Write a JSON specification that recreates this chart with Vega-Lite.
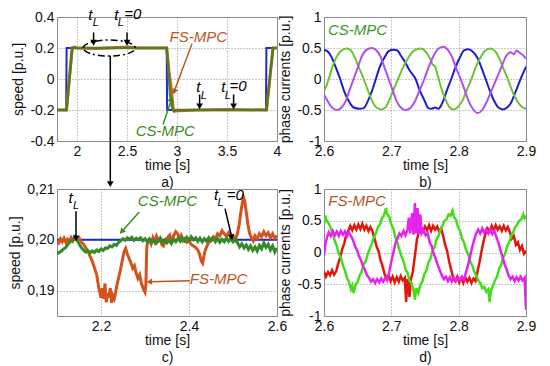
{
"$schema": "https://vega.github.io/schema/vega-lite/v6.json",
"background": "white",
"padding": {"left": 8, "top": 6, "right": 5, "bottom": 5},
"config": {
  "font": "Liberation Sans",
  "view": {"stroke": "#8a8a8a", "strokeWidth": 1},
  "axis": {"grid": true, "gridDash": [1, 2], "gridColor": "#909090", "gridWidth": 1, "domain": false, "ticks": false, "labelFont": "Liberation Sans", "labelFontSize": 14, "labelColor": "#111", "titleFont": "Liberation Sans", "titleFontSize": 14, "titleFontWeight": "normal", "titleColor": "#111", "labelPadding": 3, "labelFlush": false, "labelOverlap": false},
  "axisX": {"titlePadding": 0, "titleLineHeight": 17},
  "axisY": {"titlePadding": 4}
},
"datasets": {
  "a_ref": [{"t":1.8,"v":-0.2},{"t":1.892,"v":-0.2},{"t":1.896,"v":0.2},{"t":2.897,"v":0.2},{"t":2.901,"v":-0.2},{"t":3.89,"v":-0.2},{"t":3.894,"v":0.2},{"t":4.0,"v":0.2}],
  "a_fs": [{"t":1.8,"v":-0.2},{"t":1.895,"v":-0.2},{"t":1.95,"v":0.2},{"t":1.97,"v":0.206},{"t":2.0,"v":0.2},{"t":2.2,"v":0.197},{"t":2.3,"v":0.2},{"t":2.52,"v":0.207},{"t":2.6,"v":0.2},{"t":2.897,"v":0.2},{"t":2.92,"v":0.05},{"t":2.945,"v":-0.08},{"t":2.962,"v":-0.19},{"t":2.98,"v":-0.206},{"t":3.2,"v":-0.2},{"t":3.5,"v":-0.197},{"t":3.895,"v":-0.2},{"t":3.96,"v":0.2},{"t":4.0,"v":0.2}],
  "a_cs": [{"t":1.8,"v":-0.2},{"t":1.895,"v":-0.2},{"t":1.955,"v":0.2},{"t":2.897,"v":0.2},{"t":2.915,"v":0.05},{"t":2.93,"v":-0.1},{"t":2.955,"v":-0.2},{"t":2.97,"v":-0.21},{"t":3.0,"v":-0.2},{"t":3.895,"v":-0.2},{"t":3.96,"v":0.2},{"t":4.0,"v":0.2}],
  "a_t": [{"t":2.133,"v":0.379,"txt":"t"},{"t":2.393,"v":0.379,"txt":"t"},{"t":3.213,"v":-0.087,"txt":"t"},{"t":3.463,"v":-0.087,"txt":"t"}],
  "a_L": [{"t":2.188,"v":0.345,"txt":"L"},{"t":2.438,"v":0.345,"txt":"L"},{"t":3.268,"v":-0.13,"txt":"L"},{"t":3.508,"v":-0.13,"txt":"L"}],
  "a_eq": [{"t":2.473,"v":0.389,"txt":"=0"},{"t":3.525,"v":-0.076,"txt":"=0"}],
  "a_rules": [{"t":2.166,"v":0.30,"t2":2.166,"v2":0.245},{"t":2.5,"v":0.30,"t2":2.5,"v2":0.245},{"t":3.226,"v":-0.10,"t2":3.226,"v2":-0.165},{"t":3.566,"v":-0.10,"t2":3.566,"v2":-0.165},{"t":2.333,"v":0.15,"t2":2.333,"v2":-0.66}],
  "a_heads": [{"t":2.166,"v":0.234},{"t":2.5,"v":0.234},{"t":3.226,"v":-0.176},{"t":3.566,"v":-0.176},{"t":2.333,"v":-0.678}],
  "a_ell": [{"t":2.322,"v":0.2}],
  "a_fsarrow": [{"t":3.15,"v":0.227,"t2":2.976,"v2":-0.072}],
  "a_fshead": [{"t":2.973,"v":-0.082}],
  "a_csarrow": [{"t":2.86,"v":-0.293,"t2":2.94,"v2":-0.14}],
  "a_cshead": [{"t":2.943,"v":-0.13}],
  "a_fslab": [{"t":3.213,"v":0.238,"txt":"FS-MPC"}],
  "a_cslab": [{"t":2.883,"v":-0.366,"txt":"CS-MPC"}],
  "b_blue": [{"t":2.600,"v":0.47},{"t":2.605,"v":0.45},{"t":2.611,"v":0.36},{"t":2.617,"v":0.2},{"t":2.624,"v":0.0},{"t":2.630,"v":-0.2},{"t":2.637,"v":-0.36},{"t":2.644,"v":-0.46},{"t":2.652,"v":-0.48},{"t":2.659,"v":-0.47},{"t":2.665,"v":-0.36},{"t":2.671,"v":-0.2},{"t":2.677,"v":0.0},{"t":2.683,"v":0.2},{"t":2.690,"v":0.35},{"t":2.696,"v":0.45},{"t":2.703,"v":0.47},{"t":2.709,"v":0.46},{"t":2.714,"v":0.38},{"t":2.719,"v":0.3},{"t":2.727,"v":0.14},{"t":2.736,"v":0.0},{"t":2.742,"v":-0.18},{"t":2.749,"v":-0.34},{"t":2.755,"v":-0.47},{"t":2.760,"v":-0.48},{"t":2.765,"v":-0.46},{"t":2.770,"v":-0.48},{"t":2.776,"v":-0.38},{"t":2.782,"v":-0.2},{"t":2.789,"v":0.0},{"t":2.795,"v":0.18},{"t":2.802,"v":0.35},{"t":2.808,"v":0.46},{"t":2.815,"v":0.48},{"t":2.821,"v":0.44},{"t":2.828,"v":0.34},{"t":2.834,"v":0.18},{"t":2.840,"v":0.0},{"t":2.846,"v":-0.18},{"t":2.853,"v":-0.36},{"t":2.859,"v":-0.46},{"t":2.866,"v":-0.49},{"t":2.872,"v":-0.46},{"t":2.878,"v":-0.38},{"t":2.884,"v":-0.22},{"t":2.892,"v":0.0},{"t":2.900,"v":0.2}],
  "b_green": [{"t":2.600,"v":-0.2},{"t":2.604,"v":-0.1},{"t":2.607,"v":0.0},{"t":2.612,"v":0.18},{"t":2.618,"v":0.34},{"t":2.625,"v":0.45},{"t":2.634,"v":0.49},{"t":2.640,"v":0.46},{"t":2.646,"v":0.34},{"t":2.652,"v":0.18},{"t":2.659,"v":0.0},{"t":2.665,"v":-0.18},{"t":2.671,"v":-0.34},{"t":2.678,"v":-0.46},{"t":2.685,"v":-0.49},{"t":2.691,"v":-0.46},{"t":2.697,"v":-0.34},{"t":2.703,"v":-0.18},{"t":2.710,"v":0.0},{"t":2.717,"v":0.18},{"t":2.725,"v":0.34},{"t":2.734,"v":0.46},{"t":2.744,"v":0.49},{"t":2.751,"v":0.44},{"t":2.757,"v":0.34},{"t":2.761,"v":0.24},{"t":2.765,"v":0.2},{"t":2.769,"v":0.05},{"t":2.774,"v":-0.14},{"t":2.780,"v":-0.32},{"t":2.786,"v":-0.45},{"t":2.792,"v":-0.49},{"t":2.799,"v":-0.45},{"t":2.806,"v":-0.34},{"t":2.812,"v":-0.18},{"t":2.819,"v":0.0},{"t":2.825,"v":0.18},{"t":2.832,"v":0.34},{"t":2.839,"v":0.45},{"t":2.847,"v":0.49},{"t":2.854,"v":0.45},{"t":2.860,"v":0.34},{"t":2.866,"v":0.18},{"t":2.873,"v":0.0},{"t":2.879,"v":-0.18},{"t":2.886,"v":-0.34},{"t":2.893,"v":-0.44},{"t":2.900,"v":-0.48}],
  "b_mag": [{"t":2.600,"v":-0.25},{"t":2.604,"v":-0.33},{"t":2.609,"v":-0.42},{"t":2.614,"v":-0.48},{"t":2.620,"v":-0.5},{"t":2.626,"v":-0.46},{"t":2.632,"v":-0.36},{"t":2.638,"v":-0.18},{"t":2.644,"v":0.0},{"t":2.650,"v":0.18},{"t":2.656,"v":0.36},{"t":2.663,"v":0.47},{"t":2.671,"v":0.5},{"t":2.678,"v":0.46},{"t":2.684,"v":0.36},{"t":2.690,"v":0.18},{"t":2.696,"v":0.0},{"t":2.702,"v":-0.18},{"t":2.708,"v":-0.36},{"t":2.714,"v":-0.46},{"t":2.721,"v":-0.5},{"t":2.728,"v":-0.47},{"t":2.735,"v":-0.36},{"t":2.742,"v":-0.18},{"t":2.749,"v":0.0},{"t":2.755,"v":0.18},{"t":2.762,"v":0.36},{"t":2.769,"v":0.48},{"t":2.777,"v":0.52},{"t":2.784,"v":0.47},{"t":2.790,"v":0.36},{"t":2.796,"v":0.18},{"t":2.803,"v":0.0},{"t":2.809,"v":-0.18},{"t":2.815,"v":-0.36},{"t":2.821,"v":-0.48},{"t":2.828,"v":-0.55},{"t":2.835,"v":-0.5},{"t":2.842,"v":-0.36},{"t":2.849,"v":-0.18},{"t":2.856,"v":0.0},{"t":2.863,"v":0.18},{"t":2.870,"v":0.36},{"t":2.877,"v":0.43},{"t":2.882,"v":0.4},{"t":2.886,"v":0.46},{"t":2.891,"v":0.42},{"t":2.896,"v":0.38},{"t":2.900,"v":0.33}],
  "b_lab": [{"t":2.6499,"v":0.714,"txt":"CS-MPC"}],
  "c_ref": [{"t":2.1,"v":0.2},{"t":2.6,"v":0.2}],
  "c_cs": [{"t":2.1,"v":0.1972},{"t":2.105,"v":0.1975},{"t":2.11,"v":0.1978},{"t":2.115,"v":0.1982},{"t":2.12,"v":0.1985},{"t":2.125,"v":0.1992},{"t":2.13,"v":0.1996},{"t":2.135,"v":0.1999},{"t":2.14,"v":0.2002},{"t":2.145,"v":0.2},{"t":2.15,"v":0.1992},{"t":2.155,"v":0.1985},{"t":2.16,"v":0.198},{"t":2.165,"v":0.1976},{"t":2.17,"v":0.1979},{"t":2.175,"v":0.1974},{"t":2.18,"v":0.1978},{"t":2.185,"v":0.1975},{"t":2.19,"v":0.198},{"t":2.195,"v":0.1977},{"t":2.2,"v":0.1982},{"t":2.205,"v":0.1979},{"t":2.21,"v":0.1984},{"t":2.215,"v":0.1983},{"t":2.22,"v":0.1988},{"t":2.225,"v":0.1986},{"t":2.23,"v":0.1991},{"t":2.235,"v":0.1989},{"t":2.24,"v":0.1995},{"t":2.245,"v":0.1998},{"t":2.25,"v":0.2002},{"t":2.255,"v":0.1999},{"t":2.26,"v":0.2004},{"t":2.265,"v":0.2001},{"t":2.27,"v":0.2005},{"t":2.275,"v":0.1999},{"t":2.28,"v":0.2003},{"t":2.285,"v":0.2},{"t":2.29,"v":0.2004},{"t":2.295,"v":0.1998},{"t":2.3,"v":0.2002},{"t":2.305,"v":0.1996},{"t":2.31,"v":0.2001},{"t":2.315,"v":0.1995},{"t":2.32,"v":0.1999},{"t":2.325,"v":0.1993},{"t":2.33,"v":0.1998},{"t":2.335,"v":0.2003},{"t":2.34,"v":0.1996},{"t":2.345,"v":0.2},{"t":2.35,"v":0.1994},{"t":2.355,"v":0.1999},{"t":2.36,"v":0.1993},{"t":2.365,"v":0.2001},{"t":2.37,"v":0.1996},{"t":2.375,"v":0.2003},{"t":2.38,"v":0.1997},{"t":2.385,"v":0.2004},{"t":2.39,"v":0.1998},{"t":2.395,"v":0.2005},{"t":2.4,"v":0.1999},{"t":2.405,"v":0.2006},{"t":2.41,"v":0.2},{"t":2.415,"v":0.2004},{"t":2.42,"v":0.1997},{"t":2.425,"v":0.2003},{"t":2.43,"v":0.1996},{"t":2.435,"v":0.2002},{"t":2.44,"v":0.1997},{"t":2.445,"v":0.2004},{"t":2.45,"v":0.1998},{"t":2.455,"v":0.2003},{"t":2.46,"v":0.1996},{"t":2.465,"v":0.2002},{"t":2.47,"v":0.1995},{"t":2.475,"v":0.2001},{"t":2.48,"v":0.1996},{"t":2.485,"v":0.2003},{"t":2.49,"v":0.1997},{"t":2.495,"v":0.2002},{"t":2.5,"v":0.1996},{"t":2.505,"v":0.2001},{"t":2.51,"v":0.1995},{"t":2.515,"v":0.1986},{"t":2.52,"v":0.1992},{"t":2.525,"v":0.1984},{"t":2.53,"v":0.199},{"t":2.535,"v":0.1981},{"t":2.54,"v":0.1988},{"t":2.545,"v":0.1979},{"t":2.55,"v":0.1986},{"t":2.555,"v":0.1978},{"t":2.56,"v":0.1989},{"t":2.565,"v":0.1982},{"t":2.57,"v":0.1994},{"t":2.575,"v":0.1985},{"t":2.58,"v":0.1991},{"t":2.585,"v":0.198},{"t":2.59,"v":0.1988},{"t":2.595,"v":0.1976},{"t":2.6,"v":0.1984}],
  "c_fs": [{"t":2.1,"v":0.1998},{"t":2.104,"v":0.1994},{"t":2.108,"v":0.2002},{"t":2.112,"v":0.1996},{"t":2.116,"v":0.2003},{"t":2.12,"v":0.1995},{"t":2.124,"v":0.2001},{"t":2.128,"v":0.1997},{"t":2.132,"v":0.2004},{"t":2.136,"v":0.1998},{"t":2.14,"v":0.2006},{"t":2.145,"v":0.2001},{"t":2.15,"v":0.2004},{"t":2.155,"v":0.1996},{"t":2.16,"v":0.1992},{"t":2.165,"v":0.1985},{"t":2.17,"v":0.1978},{"t":2.175,"v":0.1968},{"t":2.18,"v":0.1958},{"t":2.185,"v":0.1945},{"t":2.19,"v":0.1932},{"t":2.195,"v":0.1905},{"t":2.2,"v":0.1886},{"t":2.203,"v":0.1905},{"t":2.206,"v":0.1884},{"t":2.209,"v":0.1914},{"t":2.212,"v":0.1877},{"t":2.215,"v":0.1895},{"t":2.218,"v":0.1887},{"t":2.221,"v":0.1905},{"t":2.224,"v":0.1876},{"t":2.227,"v":0.189},{"t":2.23,"v":0.1884},{"t":2.233,"v":0.1896},{"t":2.236,"v":0.191},{"t":2.24,"v":0.1925},{"t":2.244,"v":0.194},{"t":2.248,"v":0.1958},{"t":2.252,"v":0.1975},{"t":2.256,"v":0.1983},{"t":2.26,"v":0.1972},{"t":2.264,"v":0.1963},{"t":2.268,"v":0.1955},{"t":2.272,"v":0.1944},{"t":2.276,"v":0.1949},{"t":2.28,"v":0.1934},{"t":2.284,"v":0.1924},{"t":2.288,"v":0.1931},{"t":2.292,"v":0.1914},{"t":2.296,"v":0.1904},{"t":2.3,"v":0.1897},{"t":2.302,"v":0.191},{"t":2.304,"v":0.1985},{"t":2.306,"v":0.1995},{"t":2.31,"v":0.2001},{"t":2.314,"v":0.1992},{"t":2.318,"v":0.2004},{"t":2.322,"v":0.1996},{"t":2.326,"v":0.2007},{"t":2.33,"v":0.1998},{"t":2.334,"v":0.2003},{"t":2.338,"v":0.1991},{"t":2.342,"v":0.1988},{"t":2.346,"v":0.1998},{"t":2.35,"v":0.2003},{"t":2.356,"v":0.2009},{"t":2.36,"v":0.1996},{"t":2.365,"v":0.2008},{"t":2.37,"v":0.2016},{"t":2.374,"v":0.2012},{"t":2.378,"v":0.2004},{"t":2.382,"v":0.2009},{"t":2.386,"v":0.1998},{"t":2.39,"v":0.2002},{"t":2.395,"v":0.1995},{"t":2.4,"v":0.1998},{"t":2.405,"v":0.1991},{"t":2.41,"v":0.1988},{"t":2.415,"v":0.1985},{"t":2.42,"v":0.198},{"t":2.424,"v":0.1972},{"t":2.428,"v":0.1958},{"t":2.431,"v":0.1954},{"t":2.434,"v":0.1968},{"t":2.437,"v":0.198},{"t":2.441,"v":0.1988},{"t":2.445,"v":0.1996},{"t":2.45,"v":0.2},{"t":2.455,"v":0.2006},{"t":2.46,"v":0.2002},{"t":2.465,"v":0.2012},{"t":2.47,"v":0.2008},{"t":2.475,"v":0.2018},{"t":2.48,"v":0.2012},{"t":2.485,"v":0.2007},{"t":2.49,"v":0.2014},{"t":2.495,"v":0.2004},{"t":2.5,"v":0.2008},{"t":2.505,"v":0.2},{"t":2.51,"v":0.2012},{"t":2.514,"v":0.203},{"t":2.518,"v":0.2055},{"t":2.521,"v":0.2072},{"t":2.524,"v":0.2083},{"t":2.527,"v":0.2075},{"t":2.53,"v":0.2055},{"t":2.534,"v":0.203},{"t":2.538,"v":0.2012},{"t":2.542,"v":0.2004},{"t":2.546,"v":0.1998},{"t":2.55,"v":0.2008},{"t":2.555,"v":0.2002},{"t":2.56,"v":0.2012},{"t":2.565,"v":0.2006},{"t":2.57,"v":0.2016},{"t":2.575,"v":0.2008},{"t":2.58,"v":0.2014},{"t":2.585,"v":0.2004},{"t":2.59,"v":0.2012},{"t":2.595,"v":0.2003},{"t":2.6,"v":0.2008}],
  "c_t": [{"t":2.1307,"v":0.20726,"txt":"t"},{"t":2.4614,"v":0.20793,"txt":"t"}],
  "c_L": [{"t":2.1432,"v":0.2060,"txt":"L"},{"t":2.4716,"v":0.2066,"txt":"L"}],
  "c_eq": [{"t":2.4857,"v":0.20793,"txt":"=0"}],
  "c_rules": [{"t":2.1432,"v":0.2056,"t2":2.1432,"v2":0.2006},{"t":2.4818,"v":0.20614,"t2":2.4962,"v2":0.2009}],
  "c_heads": [{"t":2.1432,"v":0.2003,"a":180},{"t":2.497,"v":0.2005,"a":169}],
  "c_csarrow": [{"t":2.287,"v":0.20546,"t2":2.25,"v2":0.2019}],
  "c_cshead": [{"t":2.247,"v":0.2016}],
  "c_fsarrow": [{"t":2.402,"v":0.19194,"t2":2.314,"v2":0.19176}],
  "c_fshead": [{"t":2.31,"v":0.19174}],
  "c_cslab": [{"t":2.351,"v":0.2066,"txt":"CS-MPC"}],
  "c_fslab": [{"t":2.467,"v":0.19126,"txt":"FS-MPC"}],
  "d_red": [{"t":2.600,"v":-0.30},{"t":2.603,"v":-0.38},{"t":2.606,"v":-0.31},{"t":2.609,"v":-0.36},{"t":2.612,"v":-0.28},{"t":2.615,"v":-0.35},{"t":2.618,"v":-0.30},{"t":2.621,"v":-0.18},{"t":2.624,"v":-0.08},{"t":2.627,"v":0.05},{"t":2.630,"v":0.14},{"t":2.633,"v":0.28},{"t":2.636,"v":0.34},{"t":2.639,"v":0.42},{"t":2.642,"v":0.35},{"t":2.645,"v":0.43},{"t":2.648,"v":0.36},{"t":2.651,"v":0.44},{"t":2.654,"v":0.37},{"t":2.657,"v":0.45},{"t":2.660,"v":0.36},{"t":2.663,"v":0.42},{"t":2.666,"v":0.34},{"t":2.669,"v":0.40},{"t":2.672,"v":0.33},{"t":2.675,"v":0.22},{"t":2.678,"v":0.10},{"t":2.681,"v":0.02},{"t":2.684,"v":-0.12},{"t":2.687,"v":-0.22},{"t":2.690,"v":-0.34},{"t":2.693,"v":-0.41},{"t":2.696,"v":-0.36},{"t":2.699,"v":-0.45},{"t":2.702,"v":-0.38},{"t":2.705,"v":-0.47},{"t":2.708,"v":-0.39},{"t":2.711,"v":-0.46},{"t":2.714,"v":-0.37},{"t":2.717,"v":-0.44},{"t":2.720,"v":-0.40},{"t":2.722,"v":-0.78},{"t":2.724,"v":-0.42},{"t":2.727,"v":-0.70},{"t":2.729,"v":-0.43},{"t":2.732,"v":-0.30},{"t":2.735,"v":-0.05},{"t":2.738,"v":0.20},{"t":2.741,"v":0.33},{"t":2.744,"v":0.40},{"t":2.747,"v":0.33},{"t":2.750,"v":0.41},{"t":2.753,"v":0.35},{"t":2.756,"v":0.43},{"t":2.759,"v":0.34},{"t":2.762,"v":0.42},{"t":2.765,"v":0.36},{"t":2.768,"v":0.41},{"t":2.771,"v":0.33},{"t":2.774,"v":0.38},{"t":2.777,"v":0.26},{"t":2.780,"v":0.12},{"t":2.783,"v":0.02},{"t":2.786,"v":-0.15},{"t":2.789,"v":-0.28},{"t":2.792,"v":-0.40},{"t":2.795,"v":-0.45},{"t":2.798,"v":-0.38},{"t":2.801,"v":-0.47},{"t":2.804,"v":-0.40},{"t":2.807,"v":-0.48},{"t":2.810,"v":-0.39},{"t":2.813,"v":-0.46},{"t":2.816,"v":-0.40},{"t":2.819,"v":-0.48},{"t":2.822,"v":-0.41},{"t":2.825,"v":-0.45},{"t":2.828,"v":-0.30},{"t":2.831,"v":-0.15},{"t":2.834,"v":0.02},{"t":2.837,"v":0.18},{"t":2.840,"v":0.30},{"t":2.843,"v":0.38},{"t":2.846,"v":0.33},{"t":2.849,"v":0.42},{"t":2.852,"v":0.35},{"t":2.855,"v":0.43},{"t":2.858,"v":0.36},{"t":2.861,"v":0.41},{"t":2.864,"v":0.34},{"t":2.867,"v":0.42},{"t":2.870,"v":0.35},{"t":2.873,"v":0.40},{"t":2.876,"v":0.32},{"t":2.879,"v":0.22},{"t":2.882,"v":0.26},{"t":2.885,"v":0.12},{"t":2.888,"v":0.16},{"t":2.891,"v":0.04},{"t":2.894,"v":0.10},{"t":2.897,"v":-0.02},{"t":2.900,"v":0.03}],
  "d_green": [{"t":2.600,"v":0.45},{"t":2.602,"v":0.58},{"t":2.604,"v":0.50},{"t":2.607,"v":0.46},{"t":2.610,"v":0.38},{"t":2.613,"v":0.30},{"t":2.616,"v":0.18},{"t":2.619,"v":0.10},{"t":2.622,"v":-0.02},{"t":2.625,"v":-0.08},{"t":2.628,"v":-0.20},{"t":2.631,"v":-0.28},{"t":2.634,"v":-0.40},{"t":2.637,"v":-0.46},{"t":2.640,"v":-0.58},{"t":2.642,"v":-0.52},{"t":2.644,"v":-0.64},{"t":2.647,"v":-0.50},{"t":2.650,"v":-0.46},{"t":2.653,"v":-0.36},{"t":2.656,"v":-0.30},{"t":2.659,"v":-0.18},{"t":2.662,"v":-0.14},{"t":2.665,"v":-0.02},{"t":2.668,"v":0.06},{"t":2.671,"v":0.14},{"t":2.674,"v":0.24},{"t":2.677,"v":0.30},{"t":2.680,"v":0.40},{"t":2.683,"v":0.44},{"t":2.686,"v":0.54},{"t":2.689,"v":0.58},{"t":2.692,"v":0.70},{"t":2.694,"v":0.60},{"t":2.697,"v":0.56},{"t":2.700,"v":0.44},{"t":2.703,"v":0.38},{"t":2.706,"v":0.24},{"t":2.709,"v":0.16},{"t":2.712,"v":0.04},{"t":2.715,"v":-0.06},{"t":2.718,"v":-0.14},{"t":2.721,"v":-0.26},{"t":2.724,"v":-0.32},{"t":2.727,"v":-0.44},{"t":2.730,"v":-0.48},{"t":2.733,"v":-0.60},{"t":2.735,"v":-0.74},{"t":2.737,"v":-0.56},{"t":2.740,"v":-0.64},{"t":2.743,"v":-0.52},{"t":2.746,"v":-0.46},{"t":2.749,"v":-0.34},{"t":2.752,"v":-0.28},{"t":2.755,"v":-0.16},{"t":2.758,"v":-0.10},{"t":2.761,"v":0.02},{"t":2.764,"v":0.08},{"t":2.767,"v":0.20},{"t":2.770,"v":0.26},{"t":2.773,"v":0.36},{"t":2.776,"v":0.42},{"t":2.779,"v":0.50},{"t":2.782,"v":0.52},{"t":2.785,"v":0.60},{"t":2.788,"v":0.58},{"t":2.791,"v":0.66},{"t":2.793,"v":0.56},{"t":2.796,"v":0.52},{"t":2.799,"v":0.40},{"t":2.802,"v":0.34},{"t":2.805,"v":0.22},{"t":2.808,"v":0.16},{"t":2.811,"v":0.04},{"t":2.814,"v":-0.02},{"t":2.817,"v":-0.14},{"t":2.820,"v":-0.20},{"t":2.823,"v":-0.30},{"t":2.826,"v":-0.36},{"t":2.829,"v":-0.44},{"t":2.832,"v":-0.48},{"t":2.835,"v":-0.56},{"t":2.838,"v":-0.54},{"t":2.841,"v":-0.62},{"t":2.844,"v":-0.58},{"t":2.846,"v":-0.78},{"t":2.848,"v":-0.60},{"t":2.851,"v":-0.52},{"t":2.854,"v":-0.44},{"t":2.857,"v":-0.38},{"t":2.860,"v":-0.26},{"t":2.863,"v":-0.20},{"t":2.866,"v":-0.08},{"t":2.869,"v":-0.02},{"t":2.872,"v":0.10},{"t":2.875,"v":0.16},{"t":2.878,"v":0.26},{"t":2.881,"v":0.32},{"t":2.884,"v":0.40},{"t":2.887,"v":0.44},{"t":2.890,"v":0.50},{"t":2.893,"v":0.52},{"t":2.896,"v":0.60},{"t":2.898,"v":0.54},{"t":2.900,"v":0.58}],
  "d_mag": [{"t":2.600,"v":-0.05},{"t":2.602,"v":0.12},{"t":2.604,"v":0.22},{"t":2.607,"v":0.32},{"t":2.610,"v":0.26},{"t":2.613,"v":0.34},{"t":2.616,"v":0.27},{"t":2.619,"v":0.33},{"t":2.622,"v":0.26},{"t":2.625,"v":0.34},{"t":2.628,"v":0.28},{"t":2.631,"v":0.33},{"t":2.634,"v":0.25},{"t":2.637,"v":0.32},{"t":2.640,"v":0.26},{"t":2.643,"v":0.20},{"t":2.646,"v":0.10},{"t":2.649,"v":0.04},{"t":2.652,"v":-0.06},{"t":2.655,"v":-0.12},{"t":2.658,"v":-0.22},{"t":2.661,"v":-0.28},{"t":2.664,"v":-0.36},{"t":2.667,"v":-0.40},{"t":2.670,"v":-0.46},{"t":2.673,"v":-0.42},{"t":2.676,"v":-0.48},{"t":2.679,"v":-0.42},{"t":2.682,"v":-0.47},{"t":2.685,"v":-0.41},{"t":2.688,"v":-0.46},{"t":2.691,"v":-0.40},{"t":2.694,"v":-0.44},{"t":2.697,"v":-0.30},{"t":2.700,"v":-0.14},{"t":2.703,"v":0.00},{"t":2.706,"v":0.14},{"t":2.709,"v":0.22},{"t":2.712,"v":0.30},{"t":2.715,"v":0.26},{"t":2.718,"v":0.34},{"t":2.721,"v":0.27},{"t":2.724,"v":0.36},{"t":2.726,"v":0.55},{"t":2.728,"v":0.30},{"t":2.731,"v":0.62},{"t":2.733,"v":0.28},{"t":2.735,"v":0.78},{"t":2.737,"v":0.30},{"t":2.739,"v":0.70},{"t":2.741,"v":0.29},{"t":2.743,"v":0.60},{"t":2.745,"v":0.30},{"t":2.748,"v":0.35},{"t":2.751,"v":0.27},{"t":2.754,"v":0.30},{"t":2.757,"v":0.16},{"t":2.760,"v":0.10},{"t":2.763,"v":-0.02},{"t":2.766,"v":-0.10},{"t":2.769,"v":-0.20},{"t":2.772,"v":-0.28},{"t":2.775,"v":-0.36},{"t":2.778,"v":-0.42},{"t":2.781,"v":-0.38},{"t":2.784,"v":-0.45},{"t":2.787,"v":-0.39},{"t":2.790,"v":-0.46},{"t":2.793,"v":-0.40},{"t":2.796,"v":-0.45},{"t":2.799,"v":-0.39},{"t":2.802,"v":-0.44},{"t":2.805,"v":-0.38},{"t":2.808,"v":-0.43},{"t":2.811,"v":-0.30},{"t":2.814,"v":-0.20},{"t":2.817,"v":-0.06},{"t":2.820,"v":0.08},{"t":2.823,"v":0.20},{"t":2.826,"v":0.30},{"t":2.829,"v":0.36},{"t":2.832,"v":0.30},{"t":2.835,"v":0.38},{"t":2.838,"v":0.31},{"t":2.841,"v":0.37},{"t":2.844,"v":0.30},{"t":2.847,"v":0.36},{"t":2.850,"v":0.29},{"t":2.853,"v":0.34},{"t":2.856,"v":0.24},{"t":2.859,"v":0.16},{"t":2.862,"v":0.04},{"t":2.865,"v":-0.06},{"t":2.868,"v":-0.18},{"t":2.871,"v":-0.26},{"t":2.874,"v":-0.36},{"t":2.877,"v":-0.42},{"t":2.880,"v":-0.38},{"t":2.883,"v":-0.45},{"t":2.886,"v":-0.39},{"t":2.889,"v":-0.44},{"t":2.892,"v":-0.38},{"t":2.895,"v":-0.44},{"t":2.898,"v":-0.40},{"t":2.900,"v":-0.90}],
  "d_lab": [{"t":2.649,"v":0.73,"txt":"FS-MPC"}]
},
"columns": 2,
"spacing": {"row": 48, "column": 47},
"bounds": "flush",
"concat": [
  {
    "width": 220, "height": 124,
    "encoding": {
      "x": {"field": "t", "type": "quantitative", "scale": {"domain": [1.8, 4], "nice": false, "zero": false}, "axis": {"values": [2, 2.5, 3, 3.5, 4], "labelExpr": "'' + datum.value", "title": ["time [s]", "a)"]}},
      "y": {"field": "v", "type": "quantitative", "scale": {"domain": [-0.4, 0.4], "nice": false, "zero": false}, "axis": {"values": [-0.4, -0.2, 0, 0.2, 0.4], "labelExpr": "'' + datum.value", "title": "speed [p.u.]"}}
    },
    "layer": [
      {"data": {"name": "a_ref"}, "mark": {"type": "line", "color": "#1a2ad8", "strokeWidth": 2, "clip": true}},
      {"data": {"name": "a_fs"}, "mark": {"type": "line", "color": "#c86a24", "strokeWidth": 3, "clip": true}},
      {"data": {"name": "a_cs"}, "mark": {"type": "line", "color": "#4b7d20", "strokeWidth": 2.5, "clip": true, "opacity": 0.9}},
      {"data": {"name": "a_ell"}, "mark": {"type": "point", "shape": "M-1,0A1,0.31 0 1,1 1,0A1,0.31 0 1,1 -1,0Z", "size": 2704, "filled": false, "color": "black", "strokeWidth": 1.5, "strokeDash": [7, 3, 2, 3], "opacity": 1, "clip": false}},
      {"data": {"name": "a_rules"}, "mark": {"type": "rule", "color": "black", "strokeWidth": 1.5, "clip": false}, "encoding": {"x2": {"field": "t2"}, "y2": {"field": "v2"}}},
      {"data": {"name": "a_heads"}, "mark": {"type": "point", "shape": "triangle-down", "filled": true, "size": 45, "color": "black", "opacity": 1, "clip": false}},
      {"data": {"name": "a_fsarrow"}, "mark": {"type": "rule", "color": "#c0561c", "strokeWidth": 1.5, "clip": false}, "encoding": {"x2": {"field": "t2"}, "y2": {"field": "v2"}}},
      {"data": {"name": "a_fshead"}, "mark": {"type": "point", "shape": "triangle-up", "angle": 201, "filled": true, "size": 40, "color": "#c0561c", "opacity": 1, "clip": false}},
      {"data": {"name": "a_csarrow"}, "mark": {"type": "rule", "color": "#3a8c22", "strokeWidth": 1.5, "clip": false}, "encoding": {"x2": {"field": "t2"}, "y2": {"field": "v2"}}},
      {"data": {"name": "a_cshead"}, "mark": {"type": "point", "shape": "triangle-up", "angle": 20, "filled": true, "size": 40, "color": "#3a8c22", "opacity": 1, "clip": false}},
      {"data": {"name": "a_t"}, "mark": {"type": "text", "font": "Liberation Sans", "fontStyle": "italic", "fontSize": 15, "align": "center", "baseline": "alphabetic", "color": "black", "clip": false}, "encoding": {"text": {"field": "txt"}}},
      {"data": {"name": "a_L"}, "mark": {"type": "text", "font": "Liberation Sans", "fontStyle": "italic", "fontSize": 11, "align": "center", "baseline": "alphabetic", "color": "black", "clip": false}, "encoding": {"text": {"field": "txt"}}},
      {"data": {"name": "a_eq"}, "mark": {"type": "text", "font": "Liberation Sans", "fontStyle": "italic", "fontSize": 15, "align": "left", "baseline": "alphabetic", "color": "black", "clip": false}, "encoding": {"text": {"field": "txt"}}},
      {"data": {"name": "a_fslab"}, "mark": {"type": "text", "font": "Liberation Sans", "fontStyle": "italic", "fontSize": 15, "align": "center", "baseline": "alphabetic", "color": "#c0561c", "clip": false}, "encoding": {"text": {"field": "txt"}}},
      {"data": {"name": "a_cslab"}, "mark": {"type": "text", "font": "Liberation Sans", "fontStyle": "italic", "fontSize": 15, "align": "center", "baseline": "alphabetic", "color": "#3a8c22", "clip": false}, "encoding": {"text": {"field": "txt"}}}
    ]
  },
  {
    "width": 202, "height": 124,
    "encoding": {
      "x": {"field": "t", "type": "quantitative", "scale": {"domain": [2.6, 2.9], "nice": false, "zero": false}, "axis": {"values": [2.6, 2.7, 2.8, 2.9], "labelExpr": "'' + datum.value", "title": ["time [s]", "b)"]}},
      "y": {"field": "v", "type": "quantitative", "scale": {"domain": [-1, 1], "nice": false, "zero": false}, "axis": {"values": [-1, -0.5, 0, 0.5, 1], "labelExpr": "'' + datum.value", "title": "phase currents [p.u.]"}}
    },
    "layer": [
      {"data": {"name": "b_blue"}, "mark": {"type": "line", "color": "#1c1cd0", "strokeWidth": 2, "interpolate": "monotone", "clip": true}},
      {"data": {"name": "b_green"}, "mark": {"type": "line", "color": "#6cc232", "strokeWidth": 2, "interpolate": "monotone", "clip": true}},
      {"data": {"name": "b_mag"}, "mark": {"type": "line", "color": "#b24ef0", "strokeWidth": 2, "interpolate": "monotone", "clip": true}},
      {"data": {"name": "b_lab"}, "mark": {"type": "text", "font": "Liberation Sans", "fontStyle": "italic", "fontSize": 15, "align": "center", "baseline": "alphabetic", "color": "#3a9a22"}, "encoding": {"text": {"field": "txt"}}}
    ]
  },
  {
    "width": 220, "height": 127,
    "encoding": {
      "x": {"field": "t", "type": "quantitative", "scale": {"domain": [2.1, 2.6], "nice": false, "zero": false}, "axis": {"values": [2.2, 2.4, 2.6], "labelExpr": "'' + datum.value", "title": ["time [s]", "c)"]}},
      "y": {"field": "v", "type": "quantitative", "scale": {"domain": [0.185, 0.21], "nice": false, "zero": false}, "axis": {"values": [0.19, 0.2, 0.21], "labelExpr": "replace(format(datum.value, '.2f'), '.', ',')", "title": "speed [p.u.]"}}
    },
    "layer": [
      {"data": {"name": "c_ref"}, "mark": {"type": "line", "color": "#1a2ad8", "strokeWidth": 2, "clip": true}},
      {"data": {"name": "c_fs"}, "mark": {"type": "line", "color": "#d4521c", "strokeWidth": 3, "clip": true}},
      {"data": {"name": "c_cs"}, "mark": {"type": "line", "color": "#338a26", "strokeWidth": 3, "clip": true}},
      {"data": {"name": "c_rules"}, "mark": {"type": "rule", "color": "black", "strokeWidth": 1.5, "clip": false}, "encoding": {"x2": {"field": "t2"}, "y2": {"field": "v2"}}},
      {"data": {"name": "c_heads"}, "mark": {"type": "point", "shape": "triangle-up", "filled": true, "size": 40, "color": "black", "opacity": 1, "clip": false}, "encoding": {"angle": {"field": "a", "type": "quantitative", "scale": null}}},
      {"data": {"name": "c_csarrow"}, "mark": {"type": "rule", "color": "#3a8c22", "strokeWidth": 1.5, "clip": false}, "encoding": {"x2": {"field": "t2"}, "y2": {"field": "v2"}}},
      {"data": {"name": "c_cshead"}, "mark": {"type": "point", "shape": "triangle-up", "angle": 222, "filled": true, "size": 40, "color": "#3a8c22", "opacity": 1, "clip": false}},
      {"data": {"name": "c_fsarrow"}, "mark": {"type": "rule", "color": "#b8561c", "strokeWidth": 1.5, "clip": false}, "encoding": {"x2": {"field": "t2"}, "y2": {"field": "v2"}}},
      {"data": {"name": "c_fshead"}, "mark": {"type": "point", "shape": "triangle-up", "angle": 267, "filled": true, "size": 40, "color": "#b8561c", "opacity": 1, "clip": false}},
      {"data": {"name": "c_t"}, "mark": {"type": "text", "font": "Liberation Sans", "fontStyle": "italic", "fontSize": 15, "align": "center", "baseline": "alphabetic", "color": "black", "clip": false}, "encoding": {"text": {"field": "txt"}}},
      {"data": {"name": "c_L"}, "mark": {"type": "text", "font": "Liberation Sans", "fontStyle": "italic", "fontSize": 11, "align": "center", "baseline": "alphabetic", "color": "black", "clip": false}, "encoding": {"text": {"field": "txt"}}},
      {"data": {"name": "c_eq"}, "mark": {"type": "text", "font": "Liberation Sans", "fontStyle": "italic", "fontSize": 15, "align": "left", "baseline": "alphabetic", "color": "black", "clip": false}, "encoding": {"text": {"field": "txt"}}},
      {"data": {"name": "c_cslab"}, "mark": {"type": "text", "font": "Liberation Sans", "fontStyle": "italic", "fontSize": 15, "align": "center", "baseline": "alphabetic", "color": "#3a8c22", "clip": false}, "encoding": {"text": {"field": "txt"}}},
      {"data": {"name": "c_fslab"}, "mark": {"type": "text", "font": "Liberation Sans", "fontStyle": "italic", "fontSize": 15, "align": "center", "baseline": "alphabetic", "color": "#c0561c", "clip": false}, "encoding": {"text": {"field": "txt"}}}
    ]
  },
  {
    "width": 202, "height": 127,
    "encoding": {
      "x": {"field": "t", "type": "quantitative", "scale": {"domain": [2.6, 2.9], "nice": false, "zero": false}, "axis": {"values": [2.6, 2.7, 2.8, 2.9], "labelExpr": "'' + datum.value", "title": ["time [s]", "d)"]}},
      "y": {"field": "v", "type": "quantitative", "scale": {"domain": [-1, 1], "nice": false, "zero": false}, "axis": {"values": [-1, -0.5, 0, 0.5, 1], "labelExpr": "'' + datum.value", "title": "phase currents [p.u.]"}}
    },
    "layer": [
      {"data": {"name": "d_red"}, "mark": {"type": "line", "color": "#e0180c", "strokeWidth": 2.5, "clip": true}},
      {"data": {"name": "d_green"}, "mark": {"type": "line", "color": "#44dd1a", "strokeWidth": 2.5, "clip": true}},
      {"data": {"name": "d_mag"}, "mark": {"type": "line", "color": "#e622ee", "strokeWidth": 2.5, "clip": true}},
      {"data": {"name": "d_lab"}, "mark": {"type": "text", "font": "Liberation Sans", "fontStyle": "italic", "fontSize": 15, "align": "center", "baseline": "alphabetic", "color": "#b5561e"}, "encoding": {"text": {"field": "txt"}}}
    ]
  }
]
}
